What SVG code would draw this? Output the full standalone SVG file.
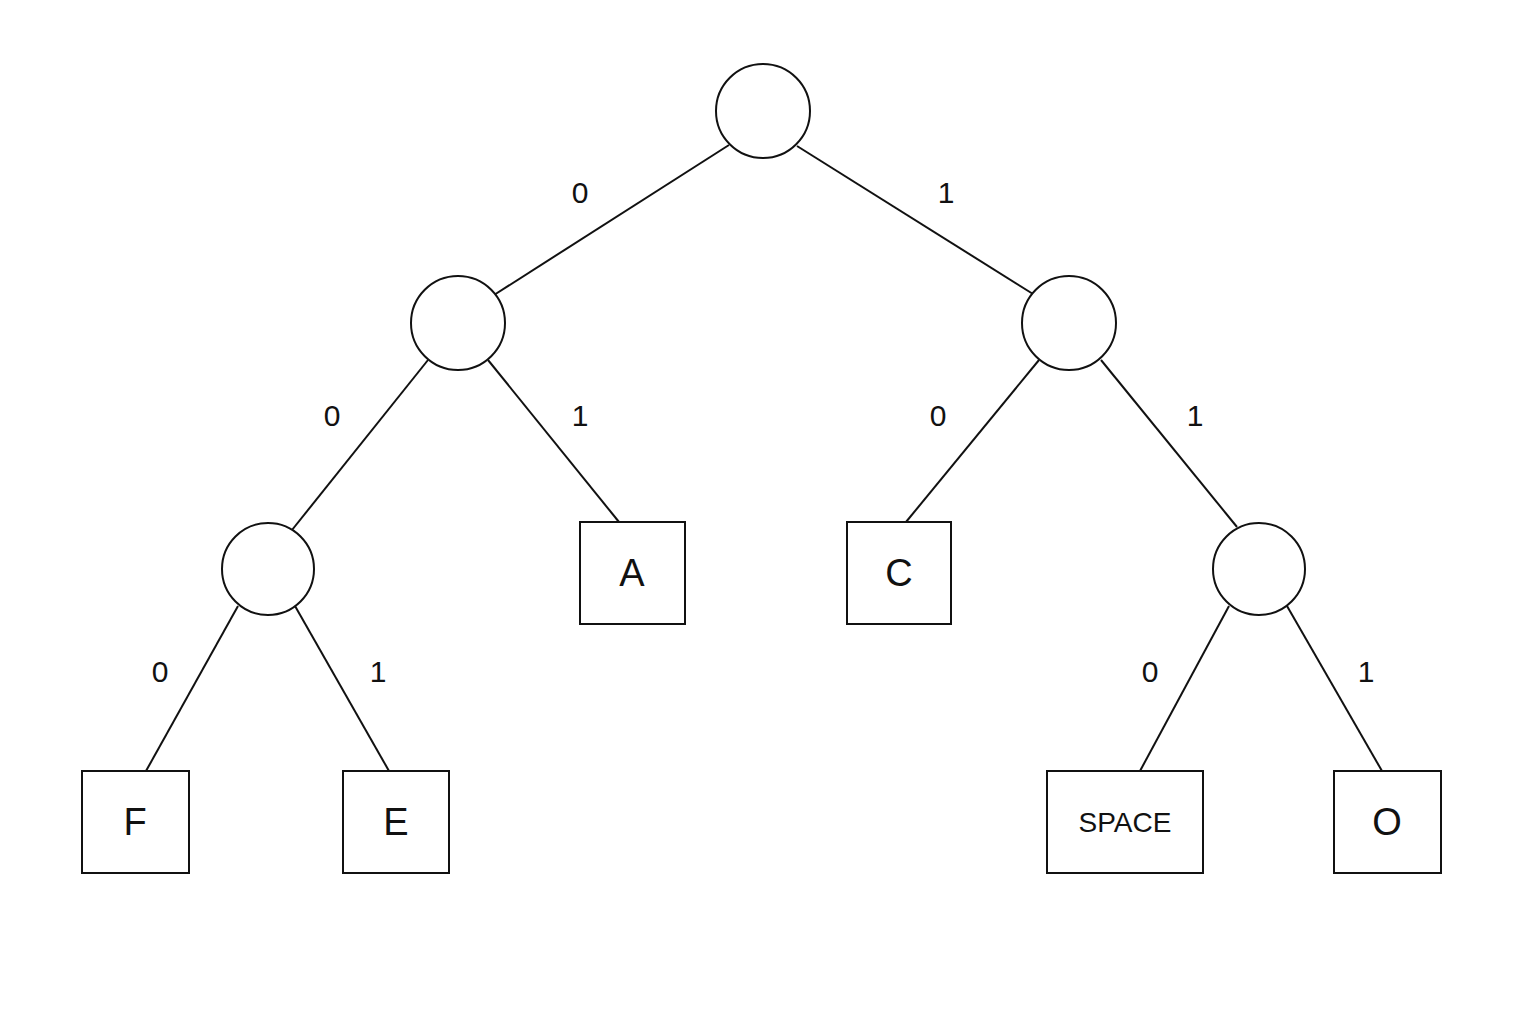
<svg xmlns="http://www.w3.org/2000/svg" width="1536" height="1024" viewBox="0 0 1536 1024">
<style>
.n{fill:#fff;stroke:#111;stroke-width:2}
.e line{stroke:#111;stroke-width:2}
.l{font-family:"Liberation Sans",Arial,sans-serif;font-size:30px;fill:#111;text-anchor:middle;dominant-baseline:central}
.t{font-family:"Liberation Sans",Arial,sans-serif;font-size:38px;fill:#111;text-anchor:middle;dominant-baseline:central}
</style>
<rect width="1536" height="1024" fill="#fff"/>
<g class="e" id="connectors">
<line x1="729" y1="145" x2="494" y2="295"/>
<line x1="797" y1="146" x2="1033" y2="294"/>
<line x1="428" y1="360" x2="292" y2="530"/>
<line x1="488" y1="360" x2="619" y2="522"/>
<line x1="1039" y1="360" x2="906" y2="522"/>
<line x1="1101" y1="360" x2="1237" y2="527"/>
<line x1="238" y1="606" x2="146" y2="771"/>
<line x1="295" y1="606" x2="389" y2="771"/>
<line x1="1229" y1="606" x2="1140" y2="771"/>
<line x1="1287" y1="606" x2="1382" y2="771"/>
<text class="l" x="580" y="192">0</text>
<text class="l" x="946" y="192">1</text>
<text class="l" x="332" y="415">0</text>
<text class="l" x="580" y="415">1</text>
<text class="l" x="938" y="415">0</text>
<text class="l" x="1195" y="415">1</text>
<text class="l" x="160" y="671">0</text>
<text class="l" x="378" y="671">1</text>
<text class="l" x="1150" y="671">0</text>
<text class="l" x="1366" y="671">1</text>
</g>
<g id="root"><circle class="n" cx="763" cy="111" r="47"/></g>
<g id="n0"><circle class="n" cx="458" cy="323" r="47"/></g>
<g id="n1"><circle class="n" cx="1069" cy="323" r="47"/></g>
<g id="n00"><circle class="n" cx="268" cy="569" r="46"/></g>
<g id="n11"><circle class="n" cx="1259" cy="569" r="46"/></g>
<g id="A"><rect class="n" x="580" y="522" width="105" height="102"/><text class="t" x="632" y="573">A</text></g>
<g id="C"><rect class="n" x="847" y="522" width="104" height="102"/><text class="t" x="899" y="573">C</text></g>
<g id="F"><rect class="n" x="82" y="771" width="107" height="102"/><text class="t" x="135" y="822">F</text></g>
<g id="E"><rect class="n" x="343" y="771" width="106" height="102"/><text class="t" x="396" y="822">E</text></g>
<g id="SPACE"><rect class="n" x="1047" y="771" width="156" height="102"/><text class="t" style="font-size:28px" x="1125" y="822">SPACE</text></g>
<g id="O"><rect class="n" x="1334" y="771" width="107" height="102"/><text class="t" x="1387" y="822">O</text></g>
</svg>
